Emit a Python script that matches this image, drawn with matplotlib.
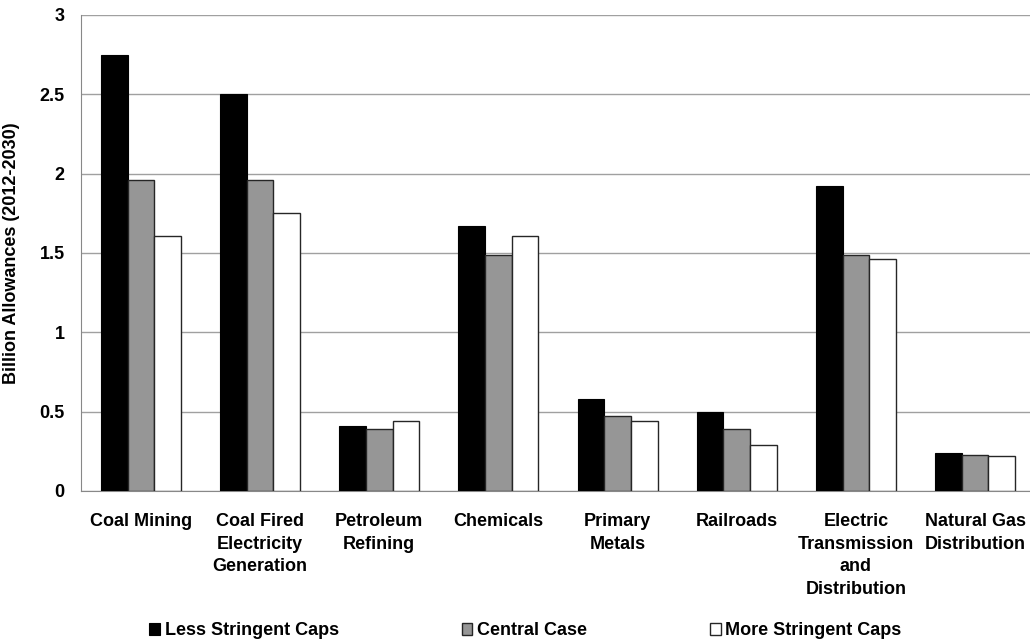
import numpy as np
import matplotlib
matplotlib.use('Agg')
from matplotlib import pyplot as plt

plt.rcParams['font.family'] = ['Liberation Sans', 'DejaVu Sans']
plt.rcParams['font.weight'] = 'bold'

categories = ['Coal Mining', 'Coal Fired\nElectricity\nGeneration', 'Petroleum\nRefining',
              'Chemicals', 'Primary\nMetals', 'Railroads',
              'Electric\nTransmission\nand\nDistribution', 'Natural Gas\nDistribution']
less_stringent = [2.75, 2.50, 0.41, 1.67, 0.58, 0.50, 1.92, 0.24]
central_case = [1.96, 1.96, 0.39, 1.49, 0.47, 0.39, 1.49, 0.23]
more_stringent = [1.61, 1.75, 0.44, 1.61, 0.44, 0.29, 1.46, 0.22]
series_names = ['Less Stringent Caps', 'Central Case', 'More Stringent Caps']
yticks = [0, 0.5, 1, 1.5, 2, 2.5, 3]

fig = plt.figure(figsize=(10.3, 6.43), dpi=100)
ax = fig.add_axes([0.079, 0.2364, 0.9255, 0.7403])

x = np.arange(len(categories))
w = 0.224
ax.bar(x - w, less_stringent, w, color='black', edgecolor='black', linewidth=0.8,
       label=series_names[0], zorder=3)
ax.bar(x, central_case, w, color='#969696', edgecolor='#262626', linewidth=1.0,
       label=series_names[1], zorder=3)
ax.bar(x + w, more_stringent, w, color='white', edgecolor='#262626', linewidth=1.0,
       label=series_names[2], zorder=3)

ax.set_xlim(-0.5, len(categories) - 0.5)
ax.set_ylim(0, 3)
ax.set_yticks(yticks)
ax.set_yticklabels([f'{v:g}' for v in yticks])
ax.set_xticks(x)
ax.set_xticklabels(categories, linespacing=1.42, va='top')
ax.tick_params(axis='both', length=0, labelsize=13)
ax.tick_params(axis='y', pad=12)
ax.tick_params(axis='x', pad=16)
ax.grid(axis='y', color='#a0a0a0', linewidth=1.0, zorder=0)
for s in ['top', 'right']:
    ax.spines[s].set_visible(False)
ax.spines['left'].set_color('#888888')
ax.spines['bottom'].set_color('#888888')
ax.set_ylabel('Billion Allowances (2012-2030)', fontsize=13, fontweight='bold', labelpad=14)

fig.legend(loc='center', bbox_to_anchor=(0.51, 0.019), ncol=3, frameon=False, fontsize=13,
           handlelength=0.6, handleheight=0.7, handletextpad=0.25, columnspacing=6.8,
           borderaxespad=0)

fig.savefig('out.png', dpi=100)
